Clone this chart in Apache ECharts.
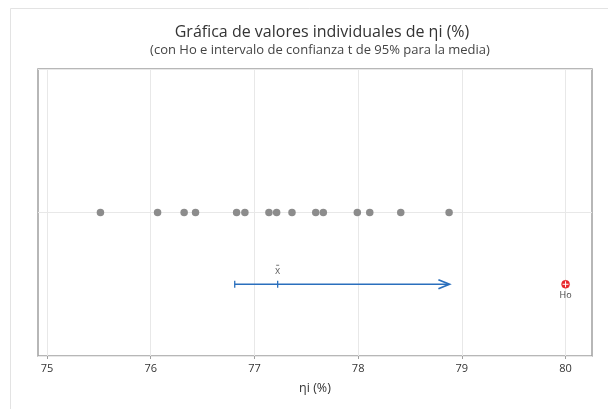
<!DOCTYPE html>
<html><head><meta charset="utf-8">
<script src="https://cdn.jsdelivr.net/npm/echarts@6/dist/echarts.min.js"></script>
<style>html,body{margin:0;padding:0;background:#fff}#c{width:608px;height:409px}</style>
</head><body><div id="c"></div>
<script>
const values = [75.515, 76.066, 76.322, 76.432, 76.828, 76.908, 77.140, 77.214, 77.362, 77.591, 77.664, 77.992, 78.112, 78.411, 78.877];
const ciLower = 76.81;
const ciArrowEnd = 78.88;
const meanValue = 77.224;
const h0 = 80;
const xTicks = [75, 76, 77, 78, 79, 80];

const chart = echarts.init(document.getElementById('c'), null, {renderer: 'canvas'});
const FONT = '"Open Sans", "Noto Sans", sans-serif';
chart.setOption({
  animation: false,
  backgroundColor: '#fff',
  graphic: [{type: 'rect', shape: {x: 10.5, y: 8.5, width: 640, height: 440}, style: {fill: 'none', stroke: '#e3e3e3', lineWidth: 1}, silent: true, z: -10}],
  title: [
    {text: 'Gráfica de valores individuales de ηi (%)', left: 317, top: 19, textAlign: 'center',
     textStyle: {fontFamily: FONT, fontSize: 16, fontWeight: 'normal', color: '#333'}},
    {text: '(con Ho e intervalo de confianza t de 95% para la media)', left: 315, top: 38.5, textAlign: 'center',
     textStyle: {fontFamily: FONT, fontSize: 13, fontWeight: 'normal', color: '#444'}}
  ],
  grid: {left: 38, right: 16, top: 69, bottom: 53, show: true, borderColor: '#a0a0a0', borderWidth: 1.5},
  xAxis: {
    type: 'value', min: 74.913, max: 80.255,
    name: 'ηi (%)', nameLocation: 'middle', nameGap: 26,
    nameTextStyle: {fontFamily: FONT, fontSize: 12.5, color: '#333'},
    axisLine: {show: false},
    axisTick: {show: true, customValues: xTicks, length: 3, lineStyle: {color: '#a0a0a0'}},
    axisLabel: {customValues: xTicks, fontFamily: FONT, fontSize: 11, color: '#333', margin: 7},
    splitLine: {show: true, lineStyle: {color: '#e8e8e8', width: 1}}
  },
  yAxis: {
    type: 'value', min: 0, max: 1, interval: 0.5,
    axisLine: {show: false}, axisTick: {show: false}, axisLabel: {show: false},
    splitLine: {show: true, lineStyle: {color: '#e8e8e8', width: 1}}
  },
  series: [
    {type: 'scatter', data: values.map(v => [v, 0.5]), symbolSize: 7.5,
     itemStyle: {color: '#8c8c8c', opacity: 1}, z: 5},
    {type: 'custom', data: [[ciLower, ciArrowEnd, meanValue, 0.25]], z: 6,
     renderItem: function (params, api) {
       const p0 = api.coord([api.value(0), api.value(3)]);
       const p1 = api.coord([api.value(1), api.value(3)]);
       const pm = api.coord([api.value(2), api.value(3)]);
       const c = '#2a6fbd';
       return {type: 'group', children: [
         {type: 'line', shape: {x1: p0[0], y1: p0[1], x2: p1[0] - 1, y2: p1[1]}, style: {stroke: c, lineWidth: 1.5}},
         {type: 'line', shape: {x1: p0[0], y1: p0[1] - 3.5, x2: p0[0], y2: p0[1] + 3.5}, style: {stroke: c, lineWidth: 1.3}},
         {type: 'line', shape: {x1: pm[0], y1: pm[1] - 3.5, x2: pm[0], y2: pm[1] + 3.5}, style: {stroke: c, lineWidth: 1.3}},
         {type: 'polyline', shape: {points: [[p1[0] - 11, p1[1] - 4.5], [p1[0], p1[1]], [p1[0] - 11, p1[1] + 4.5]]}, style: {stroke: c, lineWidth: 1.8, fill: 'none'}},
         {type: 'text', style: {text: 'x', x: pm[0], y: pm[1] - 8, align: 'center', verticalAlign: 'bottom', fontFamily: FONT, fontSize: 10, fill: '#666'}},
         {type: 'line', shape: {x1: pm[0] - 1.5, y1: pm[1] - 19, x2: pm[0] + 1.5, y2: pm[1] - 19}, style: {stroke: '#777', lineWidth: 1}}
       ]};
     }},
    {type: 'custom', data: [[h0, 0.25]], z: 7,
     renderItem: function (params, api) {
       const p = api.coord([api.value(0), api.value(1)]);
       return {type: 'group', children: [
         {type: 'circle', shape: {cx: p[0], cy: p[1], r: 4}, style: {fill: '#e8262b', stroke: '#e8262b', lineWidth: 0.5}},
         {type: 'line', shape: {x1: p[0] - 3, y1: p[1], x2: p[0] + 3, y2: p[1]}, style: {stroke: '#fff', lineWidth: 1}},
         {type: 'line', shape: {x1: p[0], y1: p[1] - 3, x2: p[0], y2: p[1] + 3}, style: {stroke: '#fff', lineWidth: 1}},
         {type: 'text', style: {text: 'Ho', x: p[0], y: p[1] + 7, align: 'center', verticalAlign: 'top', fontFamily: FONT, fontSize: 9, fill: '#444'}}
       ]};
     }}
  ]
});
</script></body></html>
